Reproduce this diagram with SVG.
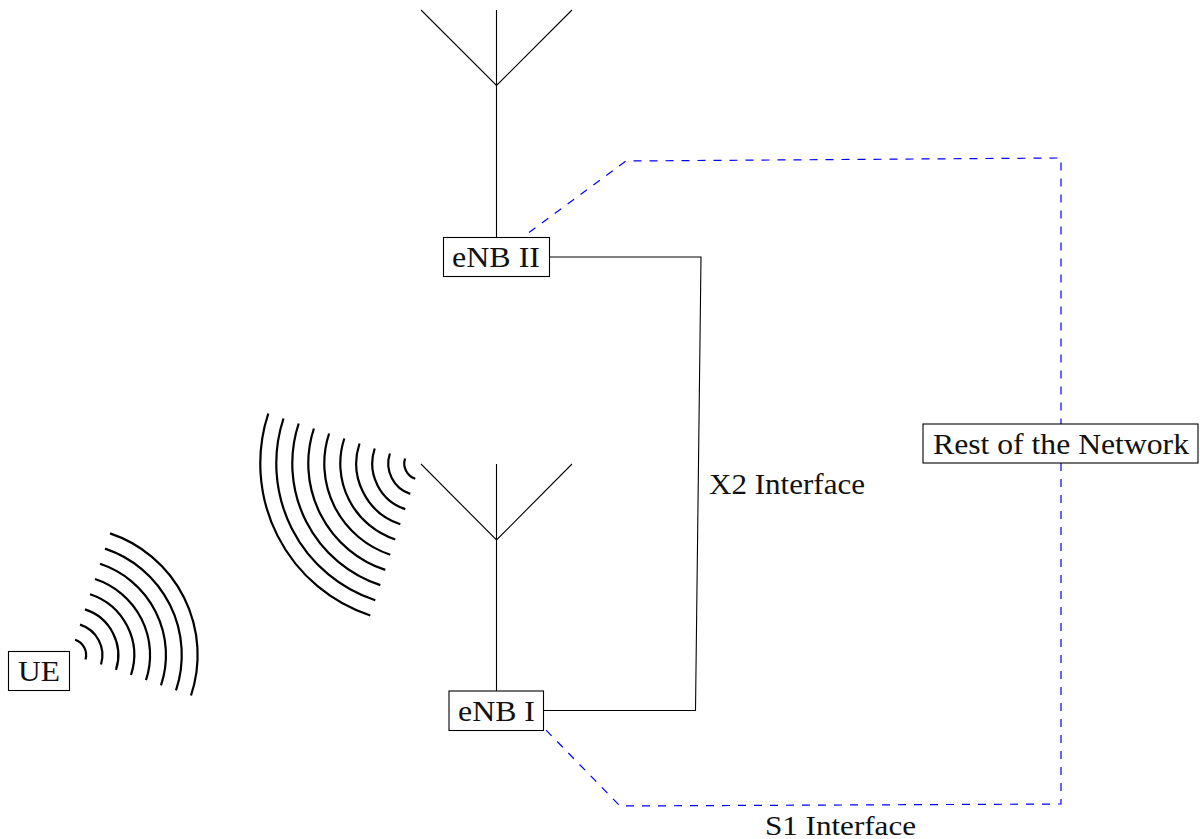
<svg xmlns="http://www.w3.org/2000/svg" width="1200" height="839" viewBox="0 0 1200 839">
<style>
.ln{fill:none;stroke:#000;stroke-width:1.1}
.ds{fill:none;stroke:#00f;stroke-width:1.2;stroke-dasharray:8 8}
.arc{fill:none;stroke:#000;stroke-width:2.2}
.box{fill:#fff;stroke:#000;stroke-width:1.1}
text{font-family:"Liberation Serif","Times New Roman",serif;font-size:29px;fill:#111}
</style>
<rect width="1200" height="839" fill="#fff"/>
<g id="connectors">
<path class="ln" d="M421 10L496.500 85.500L572 10M496.500 10V237"/>
<path class="ln" d="M421 464L496.500 540L572 464M496.500 464V691"/>
<path class="ln" d="M550 257H701L695.500 710.500H544"/>
<path class="ds" d="M529 232.500L626 161L1061 158V424"/>
<path class="ds" d="M1061 463V804L620 806L544 728"/>
</g>
<g id="ue-waves">
<path class="arc" d="M75 639.800A16 16 0 0 1 85.500 659.500"/>
<path class="arc" d="M80 624.600A32 32 0 0 1 101 664.500"/>
<path class="arc" d="M85 609.400A48 48 0 0 1 116 669.800"/>
<path class="arc" d="M90 594.200A64 64 0 0 1 131 675"/>
<path class="arc" d="M95 579A80 80 0 0 1 146 680.200"/>
<path class="arc" d="M100 563.800A96 96 0 0 1 161 685.400"/>
<path class="arc" d="M105 548.600A112 112 0 0 1 176 690.400"/>
<path class="arc" d="M110 533.400A128 128 0 0 1 191 695.500"/>
</g>
<g id="enb-waves">
<path class="arc" d="M405.100 458.500A16 16 0 0 0 415.300 478.700"/>
<path class="arc" d="M389.900 453.500A32 32 0 0 0 410.300 493.900"/>
<path class="arc" d="M374.700 448.500A48 48 0 0 0 405.300 509.100"/>
<path class="arc" d="M359.500 443.500A64 64 0 0 0 400.300 524.300"/>
<path class="arc" d="M344.300 438.500A80 80 0 0 0 395.300 539.500"/>
<path class="arc" d="M329.100 433.500A96 96 0 0 0 390.300 554.700"/>
<path class="arc" d="M313.900 428.500A112 112 0 0 0 385.300 569.900"/>
<path class="arc" d="M298.700 423.500A128 128 0 0 0 380.300 585.100"/>
<path class="arc" d="M283.500 418.500A144 144 0 0 0 375.300 600.300"/>
<path class="arc" d="M268.300 413.500A160 160 0 0 0 370.300 615.500"/>
</g>
<g id="enb2"><rect class="box" x="443.500" y="237.500" width="106" height="39"/><text x="452" y="267" textLength="88" lengthAdjust="spacingAndGlyphs">eNB II</text></g>
<g id="enb1"><rect class="box" x="449" y="691" width="94.500" height="39.500"/><text x="458" y="721" textLength="77" lengthAdjust="spacingAndGlyphs">eNB I</text></g>
<g id="ue"><rect class="box" x="8.500" y="651.500" width="61" height="39"/><text x="18" y="681" textLength="42" lengthAdjust="spacingAndGlyphs">UE</text></g>
<g id="rest"><rect class="box" x="923" y="424" width="275" height="39"/><text x="933" y="454" textLength="256" lengthAdjust="spacingAndGlyphs">Rest of the Network</text></g>
<text id="x2" x="709" y="494" textLength="156" lengthAdjust="spacingAndGlyphs">X2 Interface</text>
<text id="s1" x="765" y="835" style="font-size:28px" textLength="151" lengthAdjust="spacingAndGlyphs">S1 Interface</text>
</svg>
